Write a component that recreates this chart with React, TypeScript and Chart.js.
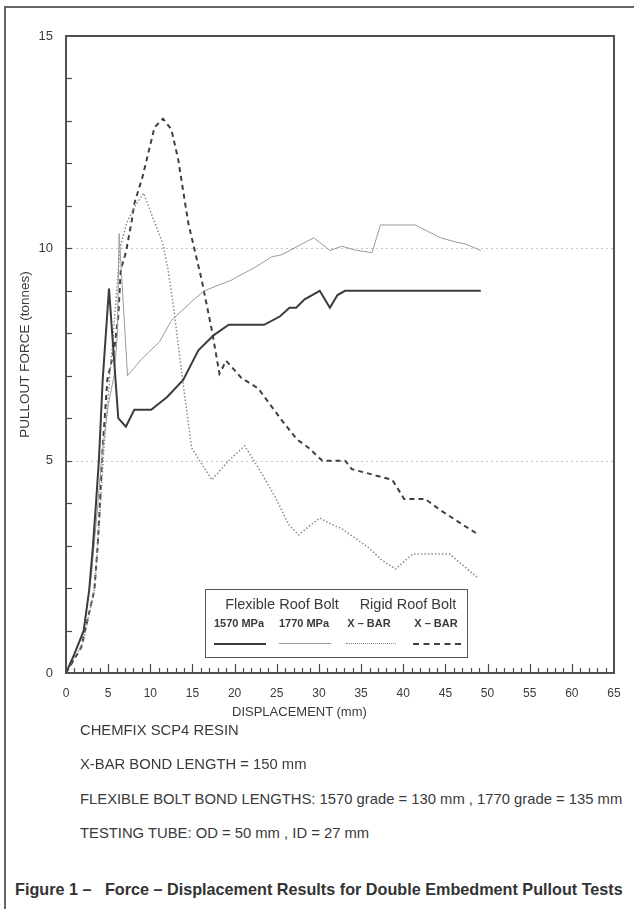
import React, { useEffect, useRef } from "react";
import { Chart, registerables } from "chart.js";

Chart.register(...registerables);

// ---- Data (displacement mm, pullout force tonnes) ----
const flex1570X = [0, 1, 2.1, 2.75, 3.2, 3.56, 3.9, 4.35, 5.1, 6.2, 7.1, 8.1, 10.1, 12, 13.9, 15.7, 17.5, 19.3, 23.5, 25.4, 26.5, 27.3, 28.3, 30.1, 31.3, 32.2, 33.1, 49.2];
const flex1570Y = [0, 0.45, 1.0, 1.95, 3.0, 4.0, 5.0, 6.9, 9.05, 6.0, 5.8, 6.2, 6.2, 6.5, 6.9, 7.6, 7.95, 8.2, 8.2, 8.4, 8.6, 8.6, 8.8, 9.0, 8.6, 8.9, 9.0, 9.0];

const flex1770X = [0, 2, 3, 3.7, 4.3, 5.0, 5.7, 6.1, 6.3, 7.3, 9, 11.1, 12.5, 15.2, 16.4, 19.6, 20.5, 22.4, 24.4, 25.6, 27.5, 29.4, 31.3, 32.7, 34.5, 36.3, 37.3, 41.4, 44.4, 46.2, 47.4, 49.2];
const flex1770Y = [0, 0.9, 2.3, 3.8, 5.2, 6.3, 7.0, 8.0, 10.35, 7.0, 7.4, 7.8, 8.3, 8.8, 9.0, 9.25, 9.35, 9.55, 9.8, 9.85, 10.05, 10.25, 9.95, 10.05, 9.95, 9.9, 10.55, 10.55, 10.25, 10.15, 10.1, 9.95];

const xbarDotX = [0, 2, 3.4, 4.1, 4.5, 5.2, 5.9, 6.4, 7.2, 8.2, 9.2, 11.5, 12.1, 12.7, 13.3, 14, 14.9, 17.3, 19.3, 21.2, 23.2, 24.8, 26.4, 27.6, 28.8, 30.1, 31.5, 32.7, 35.9, 37.5, 39.1, 41.1, 45.5, 46.7, 48.8];
const xbarDotY = [0, 0.7, 2.0, 4.0, 5.3, 7.0, 8.7, 10.0, 10.6, 11.0, 11.3, 10.1, 9.5, 8.7, 7.75, 6.65, 5.3, 4.55, 5.0, 5.35, 4.7, 4.15, 3.5, 3.25, 3.45, 3.65, 3.5, 3.4, 2.95, 2.65, 2.45, 2.8, 2.8, 2.6, 2.25];

const xbarDashX = [0, 1.8, 3.36, 3.75, 4.03, 4.25, 4.9, 5.7, 6.2, 6.5, 7.1, 7.8, 8.1, 9.1, 10.5, 11.5, 12.5, 13.3, 14.5, 16.1, 17.3, 18.2, 19.0, 20.8, 22.8, 25.6, 27.4, 28.8, 30.4, 33.1, 33.9, 38.7, 40.1, 42.6, 44.3, 47.0, 49.0];
const xbarDashY = [0, 0.6, 1.95, 2.97, 4.0, 5.0, 6.9, 7.6, 8.4, 9.5, 9.9, 10.65, 11.05, 11.7, 12.85, 13.05, 12.8, 12.1, 10.6, 9.25, 8.07, 7.05, 7.35, 6.95, 6.7, 5.95, 5.5, 5.3, 5.0, 5.0, 4.8, 4.55, 4.1, 4.1, 3.85, 3.5, 3.25];

const xTickLabels = [0, 5, 10, 15, 20, 25, 30, 35, 40, 45, 50, 55, 60, 65];
const yTickLabels = [0, 5, 10, 15];
const dottedGridValues = [5, 10];

const FONT = '"Liberation Sans", Arial, Helvetica, sans-serif';
const INK = "#3a3a3a";

const pts = (xs: number[], ys: number[]) => xs.map((x, i) => ({ x, y: ys[i] }));

const framePlugin = {
  id: "frameTicks",
  beforeDatasetsDraw(chart: any) {
    const { ctx, chartArea, scales } = chart;
    const y = scales.y;
    ctx.save();
    ctx.strokeStyle = "#c4c4c4";
    ctx.lineWidth = 1;
    ctx.setLineDash([2, 3]);
    dottedGridValues.forEach((v) => {
      const py = Math.round(y.getPixelForValue(v)) + 0.5;
      ctx.beginPath();
      ctx.moveTo(chartArea.left, py);
      ctx.lineTo(chartArea.right, py);
      ctx.stroke();
    });
    ctx.restore();
  },
  afterDatasetsDraw(chart: any) {
    const { ctx, chartArea, scales } = chart;
    const x = scales.x;
    const y = scales.y;
    ctx.save();
    ctx.strokeStyle = "#4a4a4a";
    ctx.lineWidth = 1.2;
    ctx.setLineDash([]);
    for (let v = 1; v < 65; v++) {
      const px = Math.round(x.getPixelForValue(v)) + 0.5;
      const len = v % 5 === 0 ? 9 : 5;
      ctx.beginPath();
      ctx.moveTo(px, chartArea.bottom);
      ctx.lineTo(px, chartArea.bottom - len);
      ctx.stroke();
    }
    for (let v = 1; v < 15; v++) {
      const py = Math.round(y.getPixelForValue(v)) + 0.5;
      ctx.beginPath();
      ctx.moveTo(chartArea.left, py);
      ctx.lineTo(chartArea.left + 6, py);
      ctx.stroke();
    }
    ctx.lineWidth = 2;
    ctx.strokeStyle = "#505050";
    ctx.strokeRect(chartArea.left, chartArea.top, chartArea.right - chartArea.left, chartArea.bottom - chartArea.top);
    ctx.restore();
  },
};

function LegendSample({ style }: { style: React.CSSProperties }) {
  return <div style={{ position: "absolute", height: 0, ...style }} />;
}

export default function App() {
  const canvasRef = useRef<HTMLCanvasElement | null>(null);

  useEffect(() => {
    if (!canvasRef.current) return;
    const chart = new Chart(canvasRef.current, {
      type: "line",
      data: {
        datasets: [
          {
            label: "1570 MPa",
            data: pts(flex1570X, flex1570Y),
            borderColor: "#3c3c3c",
            borderWidth: 2,
            pointRadius: 0,
            tension: 0,
          },
          {
            label: "1770 MPa",
            data: pts(flex1770X, flex1770Y),
            borderColor: "#9a9a9a",
            borderWidth: 1,
            pointRadius: 0,
            tension: 0,
          },
          {
            label: "X - BAR (dotted)",
            data: pts(xbarDotX, xbarDotY),
            borderColor: "#8c8c8c",
            borderWidth: 1.5,
            borderDash: [1.5, 2],
            pointRadius: 0,
            tension: 0,
          },
          {
            label: "X - BAR (dashed)",
            data: pts(xbarDashX, xbarDashY),
            borderColor: "#404040",
            borderWidth: 2,
            borderDash: [5, 4],
            pointRadius: 0,
            tension: 0,
          },
        ],
      },
      options: {
        animation: false,
        responsive: false,
        layout: { padding: { left: 0, top: 36, right: 20, bottom: 0 } },
        plugins: { legend: { display: false }, tooltip: { enabled: false } },
        scales: {
          x: {
            type: "linear",
            min: 0,
            max: 65,
            afterFit: (s: any) => {
              s.height = 57;
            },
            afterBuildTicks: (s: any) => {
              s.ticks = xTickLabels.map((v) => ({ value: v }));
            },
            ticks: {
              padding: 13,
              color: INK,
              font: { family: FONT, size: 12 },
              maxRotation: 0,
              autoSkip: false,
            },
            grid: { display: false, drawTicks: false },
            border: { display: false },
          },
          y: {
            type: "linear",
            min: 0,
            max: 15,
            afterFit: (s: any) => {
              s.width = 66;
            },
            afterBuildTicks: (s: any) => {
              s.ticks = yTickLabels.map((v) => ({ value: v }));
            },
            ticks: {
              padding: 13,
              color: INK,
              font: { family: FONT, size: 13 },
              autoSkip: false,
            },
            grid: { display: false, drawTicks: false },
            border: { display: false },
            title: {
              display: true,
              text: "PULLOUT FORCE (tonnes)",
              color: INK,
              font: { family: FONT, size: 13.5 },
              padding: { top: 17, bottom: 0 },
            },
          },
        },
      },
      plugins: [framePlugin],
    } as any);
    return () => chart.destroy();
  }, []);

  const noteStyle: React.CSSProperties = {
    position: "absolute",
    left: 80,
    fontSize: 14.8,
    lineHeight: "17px",
    color: INK,
    whiteSpace: "nowrap",
  };

  return (
    <div
      style={{
        position: "absolute",
        left: 0,
        top: 0,
        width: 634,
        height: 909,
        background: "#fff",
        overflow: "hidden",
        fontFamily: FONT,
      }}
    >
      <div
        style={{
          position: "absolute",
          left: 4,
          top: 6,
          width: 700,
          height: 1000,
          borderLeft: "2px solid #666",
          borderTop: "2px solid #666",
        }}
      />
      <canvas ref={canvasRef} width={634} height={730} style={{ position: "absolute", left: 0, top: 0 }} />

      {/* legend box */}
      <div
        style={{
          position: "absolute",
          left: 205,
          top: 589,
          width: 261,
          height: 67,
          border: "1.5px solid #555",
          background: "#fff",
          color: INK,
        }}
      >
        <div style={{ position: "absolute", left: 6, top: 6, width: 140, textAlign: "center", fontSize: 14.5 }}>Flexible Roof Bolt</div>
        <div style={{ position: "absolute", left: 140, top: 6, width: 124, textAlign: "center", fontSize: 14.5 }}>Rigid Roof Bolt</div>
        <div style={{ position: "absolute", left: 3, top: 27, width: 60, textAlign: "center", fontSize: 11, fontWeight: "bold" }}>1570 MPa</div>
        <div style={{ position: "absolute", left: 68, top: 27, width: 60, textAlign: "center", fontSize: 11, fontWeight: "bold" }}>1770 MPa</div>
        <div style={{ position: "absolute", left: 133, top: 27, width: 60, textAlign: "center", fontSize: 11, fontWeight: "bold" }}>X – BAR</div>
        <div style={{ position: "absolute", left: 200, top: 27, width: 60, textAlign: "center", fontSize: 11, fontWeight: "bold" }}>X – BAR</div>
        <LegendSample style={{ left: 8, top: 53, width: 52, borderTop: "2px solid #3c3c3c" }} />
        <LegendSample style={{ left: 73, top: 53, width: 52, borderTop: "1px solid #9a9a9a" }} />
        <LegendSample style={{ left: 140, top: 53, width: 50, borderTop: "1.5px dotted #8c8c8c" }} />
        <LegendSample style={{ left: 207, top: 53, width: 48, borderTop: "2px dashed #404040" }} />
      </div>

      <div style={{ position: "absolute", left: 232, top: 704, fontSize: 13, color: INK, whiteSpace: "nowrap" }}>DISPLACEMENT (mm)</div>

      <div style={{ ...noteStyle, top: 722 }}>CHEMFIX SCP4 RESIN</div>
      <div style={{ ...noteStyle, top: 756 }}>X-BAR BOND LENGTH = 150 mm</div>
      <div style={{ ...noteStyle, top: 791 }}>FLEXIBLE BOLT BOND LENGTHS: 1570 grade = 130 mm , 1770 grade = 135 mm</div>
      <div style={{ ...noteStyle, top: 825 }}>TESTING TUBE: OD = 50 mm , ID = 27 mm</div>
      <div
        style={{
          position: "absolute",
          left: 15,
          top: 880,
          fontSize: 16.2,
          lineHeight: "19px",
          fontWeight: "bold",
          color: "#333",
          whiteSpace: "pre",
        }}
      >
        {"Figure 1 –   Force – Displacement Results for Double Embedment Pullout Tests"}
      </div>
    </div>
  );
}
